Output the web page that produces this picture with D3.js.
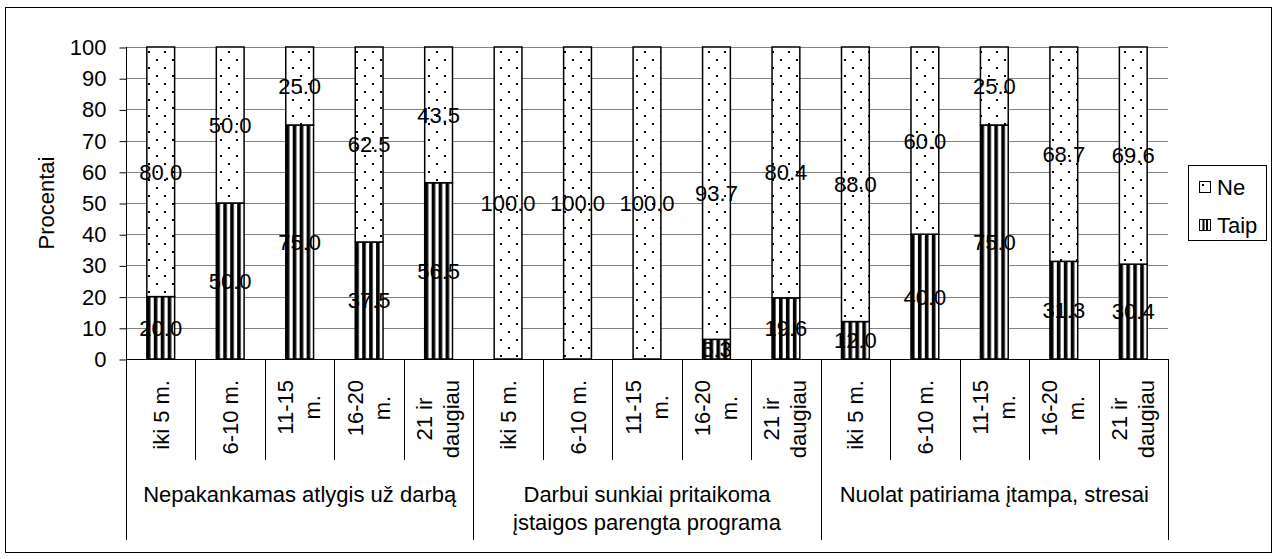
<!DOCTYPE html>
<html><head><meta charset="utf-8">
<script src="https://cdn.jsdelivr.net/npm/d3@7"></script>
<style>
html,body{margin:0;padding:0;background:#fff;}
text{font-family:"Liberation Sans",Arial,sans-serif;fill:#000;}
</style></head>
<body>
<svg id="chart" width="1277" height="559"></svg>
<script>
// ---- data ----
const groups = [
  ["Nepakankamas atlygis už darbą"],
  ["Darbui sunkiai pritaikoma", "įstaigos parengta programa"],
  ["Nuolat patiriama įtampa, stresai"]
];
const periods = [["iki 5 m."], ["6-10 m."], ["11-15", "m."], ["16-20", "m."], ["21 ir", "daugiau"]];
const taip = [20.0, 50.0, 75.0, 37.5, 56.5, 0, 0, 0, 6.3, 19.6, 12.0, 40.0, 75.0, 31.3, 30.4];
const ne   = [80.0, 50.0, 25.0, 62.5, 43.5, 100.0, 100.0, 100.0, 93.7, 80.4, 88.0, 60.0, 25.0, 68.7, 69.6];
const yTicks = [0, 10, 20, 30, 40, 50, 60, 70, 80, 90, 100];
const seriesNames = ["Ne", "Taip"];
const yTitle = "Procentai";

// ---- layout ----
const svg = d3.select("#chart");
const L = 126, R = 1168, T = 47, B = 359;
const FS = 22;

const cats = [];
groups.forEach((g, gi) => periods.forEach((p, pi) => cats.push({gi, pi, lines: p})));
const idx = d3.range(cats.length);

const x = d3.scaleBand().domain(idx).range([L, R]).padding(0);
const y = d3.scaleLinear().domain([0, 100]).range([B, T]);
const barW = x.bandwidth() * 0.4;

// outer border
svg.append("rect").attr("x", 5.5).attr("y", 7.5).attr("width", 1266).attr("height", 545)
  .attr("fill", "#fff").attr("stroke", "#000").attr("stroke-width", 1);

// patterns
const defs = svg.append("defs");
const pd = defs.append("pattern").attr("id", "dots").attr("patternUnits", "userSpaceOnUse")
  .attr("width", 16).attr("height", 16);
pd.append("rect").attr("width", 16).attr("height", 16).attr("fill", "#fff");
pd.append("rect").attr("x", 4).attr("y", 3).attr("width", 2).attr("height", 2).attr("fill", "#000");
pd.append("rect").attr("x", 12).attr("y", 11).attr("width", 2).attr("height", 2).attr("fill", "#000");

const ps = defs.append("pattern").attr("id", "stripes").attr("patternUnits", "objectBoundingBox")
  .attr("width", 0.25).attr("height", 1);
ps.append("rect").attr("width", 20).attr("height", 1000).attr("fill", "#fff");
ps.append("rect").attr("x", 0).attr("width", 3.6).attr("height", 1000).attr("fill", "#000");

// gridlines
svg.append("g").selectAll("line").data(yTicks.filter(d => d > 0)).join("line")
  .attr("x1", L).attr("x2", R).attr("y1", d => Math.round(y(d)) + 0.5).attr("y2", d => Math.round(y(d)) + 0.5)
  .attr("stroke", "#808080").attr("stroke-width", 1);

// y axis
const yAxis = d3.axisLeft(y).tickValues(yTicks).tickSize(7).tickPadding(13).tickFormat(d3.format("d"));
const ya = svg.append("g").attr("transform", `translate(${L + 0.5},0.5)`).call(yAxis);
ya.select(".domain").remove();
ya.selectAll(".tick line").attr("stroke", "#000");
ya.selectAll(".tick text").style("font-size", FS + "px").style("font-family", "Liberation Sans, Arial, sans-serif").attr("fill", "#000");

// y title
svg.append("text").attr("transform", `translate(54,203) rotate(-90)`)
  .attr("text-anchor", "middle").style("font-size", FS + "px").text(yTitle);

// bars
const bars = svg.append("g");
bars.selectAll("rect.taip").data(idx.filter(i => taip[i] > 0)).join("rect").attr("class", "taip")
  .attr("x", i => x(i) + (x.bandwidth() - barW) / 2).attr("width", barW)
  .attr("y", i => y(taip[i])).attr("height", i => y(0) - y(taip[i]))
  .attr("fill", "url(#stripes)").attr("stroke", "#000").attr("stroke-width", 1.5);
bars.selectAll("rect.ne").data(idx).join("rect").attr("class", "ne")
  .attr("x", i => x(i) + (x.bandwidth() - barW) / 2).attr("width", barW)
  .attr("y", i => y(taip[i] + ne[i])).attr("height", i => y(taip[i]) - y(taip[i] + ne[i]))
  .attr("fill", "url(#dots)").attr("stroke", "#000").attr("stroke-width", 1.5);

// value labels
const lab = svg.append("g").style("font-size", FS + "px").attr("text-anchor", "middle");
lab.selectAll("text.lt").data(idx.filter(i => taip[i] > 0)).join("text")
  .attr("x", i => x(i) + x.bandwidth() / 2).attr("y", i => y(taip[i] / 2)).attr("dy", "0.36em")
  .text(i => d3.format(".1f")(taip[i]));
lab.selectAll("text.ln").data(idx.filter(i => ne[i] > 0)).join("text")
  .attr("x", i => x(i) + x.bandwidth() / 2).attr("y", i => y(taip[i] + ne[i] / 2)).attr("dy", "0.36em")
  .text(i => d3.format(".1f")(ne[i]));

// x axis line
svg.append("line").attr("x1", L).attr("x2", R).attr("y1", B + 0.5).attr("y2", B + 0.5).attr("stroke", "#000");
// left axis line (extends down through label area)
svg.append("line").attr("x1", L + 0.5).attr("x2", L + 0.5).attr("y1", T).attr("y2", 540).attr("stroke", "#000");

// category separators
const seps = d3.range(1, cats.length + 1);
svg.append("g").selectAll("line").data(seps).join("line")
  .attr("x1", i => Math.round(x(i - 1) + x.bandwidth()) + 0.5).attr("x2", i => Math.round(x(i - 1) + x.bandwidth()) + 0.5)
  .attr("y1", B).attr("y2", i => (i % periods.length === 0) ? 540 : 460)
  .attr("stroke", "#000");

// category labels (rotated)
const cl = svg.append("g").style("font-size", FS + "px");
cats.forEach((c, i) => {
  const cx = x(i) + x.bandwidth() / 2;
  const n = c.lines.length;
  const offs = n === 1 ? [8] : [-6.5, 20.5];
  const ts = c.lines.map((t, k) => cl.append("text").attr("text-anchor", "middle").text(t));
  const maxLen = d3.max(ts, t => t.node().getComputedTextLength());
  const cy = 380 + maxLen / 2;
  ts.forEach((t, k) => t.attr("transform", `translate(${cx + offs[k]},${cy}) rotate(-90)`));
});

// group labels
const gl = svg.append("g").style("font-size", FS + "px").attr("text-anchor", "middle");
groups.forEach((g, gi) => {
  const gx = (x(gi * periods.length) + x(gi * periods.length + periods.length - 1) + x.bandwidth()) / 2;
  g.forEach((line, k) => gl.append("text").attr("x", gx).attr("y", 502 + k * 28).text(line));
});

// legend
const lg = svg.append("g");
lg.append("rect").attr("x", 1188.5).attr("y", 165.5).attr("width", 78).attr("height", 75)
  .attr("fill", "#fff").attr("stroke", "#000");
const items = lg.selectAll("g.item").data(seriesNames).join("g")
  .attr("transform", (d, k) => `translate(1199,${187 + k * 38})`);
items.append("rect").attr("x", 0.5).attr("y", -5.5).attr("width", 11).attr("height", 11)
  .attr("fill", "#fff").attr("stroke", "#000");
items.filter(d => d === "Ne").append("rect").attr("x", 3).attr("y", -3).attr("width", 2).attr("height", 2).attr("fill", "#000");
items.filter(d => d === "Taip").selectAll("rect.s").data([3.5, 7]).join("rect")
  .attr("x", d => d).attr("y", -5).attr("width", 2).attr("height", 10).attr("fill", "#000");
items.append("text").attr("x", 18).attr("y", 0).attr("dy", "0.36em").style("font-size", FS + "px").text(d => d);
</script>
</body></html>
